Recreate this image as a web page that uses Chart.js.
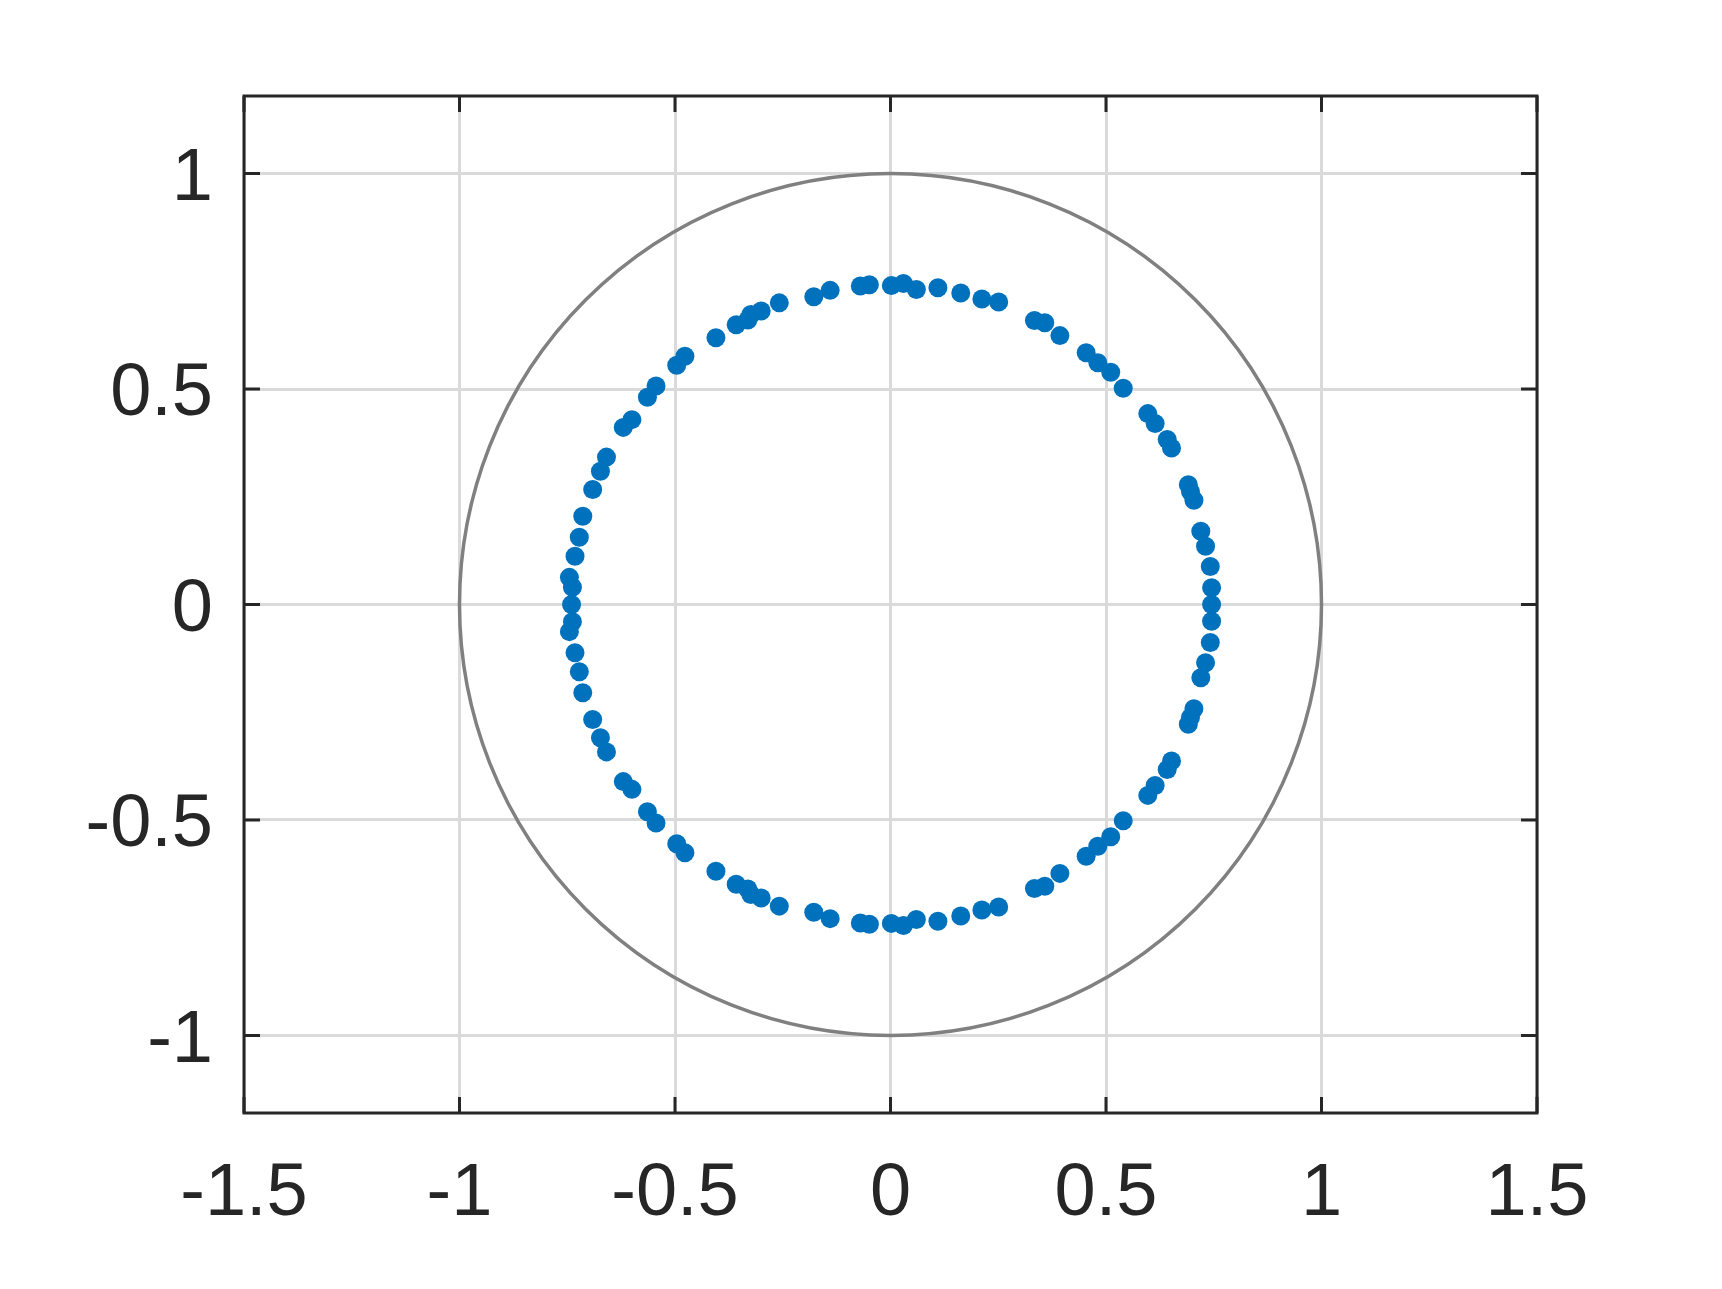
<!DOCTYPE html>
<html>
<head>
<meta charset="utf-8">
<script src="https://cdn.jsdelivr.net/npm/chart.js@4.4.1/dist/chart.umd.min.js"></script>
<style>
  html, body { margin: 0; padding: 0; background: #fff; }
  #wrap { width: 1722px; height: 1289px; }
</style>
</head>
<body>
<div id="wrap"><canvas id="eigChart" width="1722" height="1289"></canvas></div>
<script>
const reUpper = [0.745, 0.745, 0.742, 0.731, 0.720, 0.704, 0.696, 0.691, 0.652, 0.642, 0.614, 0.597, 0.540,
  0.511, 0.481, 0.454, 0.393, 0.358, 0.334, 0.251, 0.212, 0.163, 0.110, 0.060, 0.030, 0.002,
  -0.049, -0.070, -0.140, -0.178, -0.258, -0.300, -0.324, -0.331, -0.358, -0.405, -0.477, -0.496,
  -0.544, -0.564, -0.600, -0.620, -0.659, -0.673, -0.691, -0.714, -0.722, -0.732, -0.745, -0.738, -0.740];
const imUpper = [0, 0.039, 0.088, 0.135, 0.170, 0.242, 0.262, 0.278, 0.363, 0.383, 0.420, 0.443, 0.502,
  0.539, 0.561, 0.584, 0.624, 0.654, 0.659, 0.702, 0.709, 0.723, 0.735, 0.731, 0.745, 0.740,
  0.742, 0.739, 0.729, 0.714, 0.700, 0.681, 0.673, 0.660, 0.649, 0.619, 0.576, 0.555,
  0.507, 0.481, 0.429, 0.411, 0.342, 0.309, 0.267, 0.205, 0.156, 0.112, 0.063, 0.040, 0];
const reLower = [0.745, 0.742, 0.731, 0.720, 0.704, 0.696, 0.691, 0.652, 0.642, 0.614, 0.597, 0.540,
  0.511, 0.481, 0.454, 0.393, 0.358, 0.334, 0.251, 0.212, 0.163, 0.110, 0.060, 0.030, 0.002,
  -0.049, -0.070, -0.140, -0.178, -0.258, -0.300, -0.324, -0.331, -0.358, -0.405, -0.477, -0.496,
  -0.544, -0.564, -0.600, -0.620, -0.659, -0.673, -0.691, -0.714, -0.722, -0.732, -0.745, -0.738];
const imLower = [-0.039, -0.088, -0.135, -0.170, -0.242, -0.262, -0.278, -0.363, -0.383, -0.420, -0.443, -0.502,
  -0.539, -0.561, -0.584, -0.624, -0.654, -0.659, -0.702, -0.709, -0.723, -0.735, -0.731, -0.745, -0.740,
  -0.742, -0.739, -0.729, -0.714, -0.700, -0.681, -0.673, -0.660, -0.649, -0.619, -0.576, -0.555,
  -0.507, -0.481, -0.429, -0.411, -0.342, -0.309, -0.267, -0.205, -0.156, -0.112, -0.063, -0.040];

const xTicks = [-1.5, -1, -0.5, 0, 0.5, 1, 1.5];
const yTicks = [-1, -0.5, 0, 0.5, 1];
const unitRadius = 1;  // reference circle |z| = 1

const points = reUpper.map((x, i) => ({ x: x, y: imUpper[i] }))
  .concat(reLower.map((x, i) => ({ x: x, y: imLower[i] })));

const axisColor = '#262626';

// unit circle, drawn with the scales so it sits in data coordinates
const unitCircle = {
  id: 'unitCircle',
  beforeDatasetsDraw(chart) {
    const { ctx, scales: { x, y } } = chart;
    const cx = x.getPixelForValue(0), cy = y.getPixelForValue(0);
    const rx = x.getPixelForValue(unitRadius) - cx;
    const ry = cy - y.getPixelForValue(unitRadius);
    ctx.save();
    ctx.beginPath();
    ctx.ellipse(cx, cy, rx, ry, 0, 0, Math.PI * 2);
    ctx.strokeStyle = '#808080';
    ctx.lineWidth = 3.5;
    ctx.stroke();
    ctx.restore();
  }
};

// box around the axes with inward ticks on all four sides
const boxTicks = {
  id: 'boxTicks',
  afterDraw(chart) {
    const { ctx, chartArea: a, scales: { x, y } } = chart;
    const len = 16;
    ctx.save();
    ctx.strokeStyle = axisColor;
    ctx.lineWidth = 3;
    ctx.beginPath();
    xTicks.forEach(v => {
      const px = x.getPixelForValue(v);
      ctx.moveTo(px, a.bottom); ctx.lineTo(px, a.bottom - len);
      ctx.moveTo(px, a.top); ctx.lineTo(px, a.top + len);
    });
    yTicks.forEach(v => {
      const py = y.getPixelForValue(v);
      ctx.moveTo(a.left, py); ctx.lineTo(a.left + len, py);
      ctx.moveTo(a.right, py); ctx.lineTo(a.right - len, py);
    });
    ctx.stroke();
    ctx.strokeRect(a.left, a.top, a.right - a.left, a.bottom - a.top);
    ctx.restore();
  }
};

const ctx = document.getElementById('eigChart').getContext('2d');
new Chart(ctx, {
  type: 'scatter',
  data: {
    datasets: [{
      data: points,
      backgroundColor: '#0072BD',
      borderWidth: 0,
      pointRadius: 9.5,
      pointHoverRadius: 9.5
    }]
  },
  options: {
    responsive: false,
    animation: false,
    events: [],
    layout: { padding: { left: 0, top: 96, right: 185, bottom: 0 } },
    plugins: { legend: { display: false }, tooltip: { enabled: false } },
    scales: {
      x: {
        type: 'linear', min: -1.5, max: 1.5,
        afterBuildTicks: s => { s.ticks = xTicks.map(v => ({ value: v })); },
        afterFit: s => { s.height = 176; },
        grid: { color: '#dadada', lineWidth: 3, drawTicks: false },
        border: { display: false },
        ticks: {
          padding: 37, color: axisColor, maxRotation: 0, autoSkip: false,
          font: { family: '"Liberation Sans", Arial, Helvetica, sans-serif', size: 74 },
          callback: v => String(v)
        }
      },
      y: {
        type: 'linear', min: -1.18, max: 1.18,
        afterBuildTicks: s => { s.ticks = yTicks.map(v => ({ value: v })); },
        afterFit: s => { s.width = 244; },
        grid: { color: '#dadada', lineWidth: 3, drawTicks: false },
        border: { display: false },
        ticks: {
          padding: 31, labelOffset: 6, color: axisColor, autoSkip: false,
          font: { family: '"Liberation Sans", Arial, Helvetica, sans-serif', size: 74 },
          callback: v => String(v)
        }
      }
    }
  },
  plugins: [unitCircle, boxTicks]
});
</script>
</body>
</html>
